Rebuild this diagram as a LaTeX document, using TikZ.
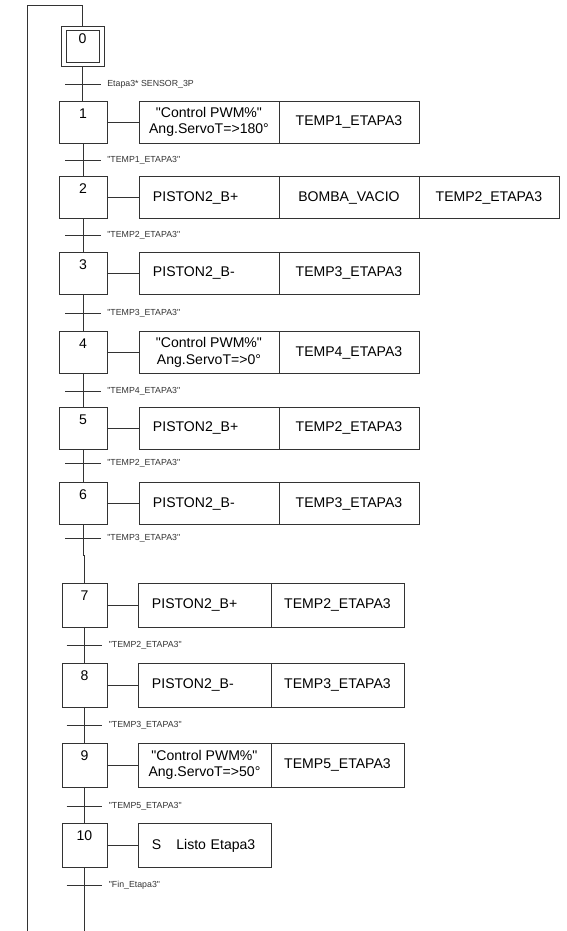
\documentclass[tikz,border=0pt]{standalone}
\usepackage{fontspec}
\setmainfont{Liberation Sans}[Ligatures=TeXOff]
\usetikzlibrary{positioning}

\begin{document}
\begin{tikzpicture}[
  x=0.02cm, y=-0.02cm,
  font=\fontsize{8pt}{9.4pt}\selectfont,
  every node/.style={align=center},
  stepbox/.style ={draw=black!80, line width=0.45pt, outer sep=0pt, inner sep=0pt,
                   minimum width=0.96cm, text height=9.7pt, text depth=14.2pt},
  lowstep/.style ={stepbox, minimum width=0.9cm, text depth=15.3pt},
  initstep/.style={stepbox, minimum width=0.86cm, text depth=13.5pt},
  act/.style     ={draw=black!80, line width=0.45pt, outer sep=0pt, inner sep=0pt,
                   minimum width=2.8cm, minimum height=0.84cm},
  actl/.style    ={act, text width=2.24cm, inner xsep=0.28cm, align=left},
  lowact/.style  ={act, minimum width=2.66cm, minimum height=0.88cm},
  lowactl/.style ={lowact, text width=2.1cm, inner xsep=0.28cm, align=left},
  cond/.style    ={font=\fontsize{5pt}{5.5pt}\selectfont, text=black!80, inner sep=0pt},
  link/.style    ={draw=black!80, line width=0.45pt},
]
\useasboundingbox (0,0) rectangle (567,931);

% steps
\node[initstep] (s0) at (82.5,46.5) {0};
\draw[link] ([shift={(0.1cm,-0.08cm)}]s0.north west)
  rectangle ([shift={(-0.1cm,0.08cm)}]s0.south east);
\node[stepbox] (s1) at (83,122)   {1};
\node[stepbox] (s2) at (83,197.5) {2};
\node[stepbox] (s3) at (83,273)   {3};
\node[stepbox] (s4) at (83,352.5) {4};
\node[stepbox] (s5) at (83,428)   {5};
\node[stepbox] (s6) at (83,503.5) {6};
\node[lowstep] (s7) at (84.5,605)   {7};
\node[lowstep] (s8) at (84.5,685)   {8};
\node[lowstep] (s9) at (84.5,765)   {9};
\node[lowstep] (s10) at (84.5,845.5) {10};

% actions
\node[act, right=0.64cm of s1] (a1) {"Control PWM\%"\\ Ang.ServoT=>180°};
\node[act, right=0pt of a1]    (b1) {TEMP1\_ETAPA3};

\node[actl, right=0.64cm of s2] (a2) {PISTON2\_B+};
\node[act, right=0pt of a2]     (b2) {BOMBA\_VACIO};
\node[act, right=0pt of b2]     (c2) {TEMP2\_ETAPA3};

\node[actl, right=0.64cm of s3] (a3) {PISTON2\_B-};
\node[act, right=0pt of a3]     (b3) {TEMP3\_ETAPA3};

\node[act, right=0.64cm of s4] (a4) {"Control PWM\%"\\ Ang.ServoT=>0°};
\node[act, right=0pt of a4]    (b4) {TEMP4\_ETAPA3};

\node[actl, right=0.64cm of s5] (a5) {PISTON2\_B+};
\node[act, right=0pt of a5]     (b5) {TEMP2\_ETAPA3};

\node[actl, right=0.64cm of s6] (a6) {PISTON2\_B-};
\node[act, right=0pt of a6]     (b6) {TEMP3\_ETAPA3};

\node[lowactl, right=0.62cm of s7] (a7) {PISTON2\_B+};
\node[lowact, right=0pt of a7]     (b7) {TEMP2\_ETAPA3};

\node[lowactl, right=0.62cm of s8] (a8) {PISTON2\_B-};
\node[lowact, right=0pt of a8]     (b8) {TEMP3\_ETAPA3};

\node[lowact, right=0.62cm of s9] (a9) {"Control PWM\%"\\ Ang.ServoT=>50°};
\node[lowact, right=0pt of a9]    (b9) {TEMP5\_ETAPA3};

\node[lowactl, right=0.62cm of s10] (a10) {S\hspace{0.3cm}Listo Etapa3};

\foreach \n in {1,...,10} {
  \draw[link] (s\n) -- (a\n);
}

% transitions
\foreach \n/\x/\y/\txt in {0/83/84/{Etapa3* SENSOR\_3P},
    1/83/160/{"TEMP1\_ETAPA3"}, 2/83/235/{"TEMP2\_ETAPA3"},
    3/83/313/{"TEMP3\_ETAPA3"}, 4/83/391/{"TEMP4\_ETAPA3"},
    5/83/463/{"TEMP2\_ETAPA3"}, 6/83/538/{"TEMP3\_ETAPA3"},
    7/84.5/645/{"TEMP2\_ETAPA3"}, 8/84.5/725/{"TEMP3\_ETAPA3"},
    9/84.5/806/{"TEMP5\_ETAPA3"}, 10/84.5/885/{"Fin\_Etapa3"}} {
  \coordinate (t\n) at (\x,\y);
  \draw[link] ([xshift=-0.36cm]t\n) -- ([xshift=0.36cm]t\n);
  \node[cond, right=0.48cm of t\n] (r\n) {\txt};
}

% chain
\coordinate (top) at (82.5,5);
\coordinate (loopend) at (27,931);
\coordinate (jog) at (84.5,555);
\coordinate (chainend) at (84.5,931);

\draw[link] (s0.north) -- (top) -| (loopend);
\draw[link] (s0.south) -- (s0.south |- s1.north);
\foreach \p/\n in {1/2,2/3,3/4,4/5,5/6,7/8,8/9,9/10} {
  \draw[link] (s\p) -- (s\n);
}
\draw[link] (s6.south) |- (jog) -| (s7.north);
\draw[link] (s10) -- (chainend);

\end{tikzpicture}
\end{document}
